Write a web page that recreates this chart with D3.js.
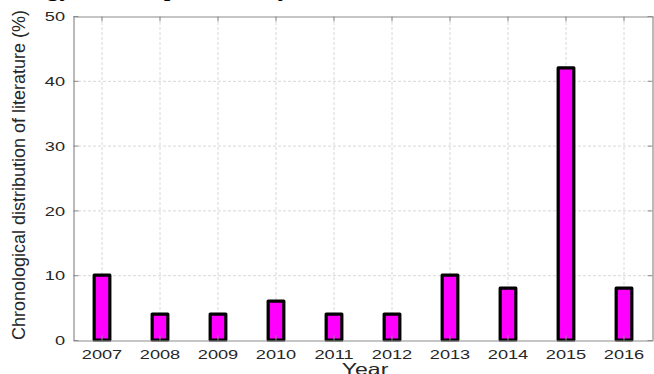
<!DOCTYPE html>
<html>
<head>
<meta charset="utf-8">
<script src="https://cdn.jsdelivr.net/npm/d3@7/dist/d3.min.js"></script>
<style>
  html, body { margin: 0; padding: 0; background: #fff; }
  svg { display: block; }
</style>
</head>
<body>
<svg id="chart" width="654" height="374"></svg>
<script>
const years = ["2007","2008","2009","2010","2011","2012","2013","2014","2015","2016"];
const shares = [10, 4, 4, 6, 4, 4, 10, 8, 42, 8];
const yTicks = [0, 10, 20, 30, 40, 50];
const yTitle = "Chronological distribution of literature (%)";
const xTitle = "Year";
const topText = "energy consumption, study and the";

const W = 654, H = 374;
const m = { left: 73, right: 1, top: 16, bottom: 34 };
const svg = d3.select("#chart");

const x = d3.scaleBand().domain(years).range([m.left, W - m.right]).padding(0);
const y = d3.scaleLinear().domain([0, 50]).range([H - m.bottom, m.top]);
const stretch = 1.4;

// clipped document text above the figure
svg.append("text")
  .attr("x", 0).attr("y", -5)
  .attr("font-family", "'Liberation Serif', 'Times New Roman', serif")
  .attr("font-size", 27).attr("fill", "#000")
  .text(topText);

// grid
const gridColor = "#d8d8d8";
svg.append("g").selectAll("line").data(years).join("line")
  .attr("x1", d => x(d) + x.bandwidth() / 2).attr("x2", d => x(d) + x.bandwidth() / 2)
  .attr("y1", y(0)).attr("y2", y(50))
  .attr("stroke", gridColor).attr("stroke-width", 1).attr("stroke-dasharray", "3,2");
svg.append("g").selectAll("line").data(yTicks.filter(t => t > 0 && t < 50)).join("line")
  .attr("x1", x.range()[0]).attr("x2", x.range()[1])
  .attr("y1", d => y(d) + 0.5).attr("y2", d => y(d) + 0.5)
  .attr("stroke", gridColor).attr("stroke-width", 1).attr("stroke-dasharray", "3,2");

// bars
const barW = x.bandwidth() * 0.27;
svg.append("g").selectAll("rect").data(years).join("rect")
  .attr("x", d => x(d) + x.bandwidth() / 2 - barW / 2)
  .attr("width", barW)
  .attr("y", (d, i) => y(shares[i]))
  .attr("height", (d, i) => y(0) - y(shares[i]))
  .attr("fill", "#ff00ff")
  .attr("stroke", "#000").attr("stroke-width", 3.2)
  .attr("stroke-linejoin", "round");

// box and axes
const axisColor = "#8c8c8c";
const tickColor = "#262626";
const fontFam = "'Liberation Sans', Arial, Helvetica, sans-serif";

const gx = svg.append("g").attr("transform", `translate(0,${y(0) + 0.5})`)
  .call(d3.axisBottom(x).tickSizeInner(-5).tickSizeOuter(0).tickPadding(9));
const gxTop = svg.append("g").attr("transform", `translate(0,${y(50) + 0.5})`)
  .call(d3.axisTop(x).tickSizeInner(-5).tickSizeOuter(0).tickFormat(""));
const gy = svg.append("g").attr("transform", `translate(${m.left + 0.5},0)`)
  .call(d3.axisLeft(y).tickValues(yTicks).tickSizeInner(-5).tickSizeOuter(0).tickPadding(6));
const gyR = svg.append("g").attr("transform", `translate(${W - m.right - 0.5},0)`)
  .call(d3.axisRight(y).tickValues(yTicks).tickSizeInner(-5).tickSizeOuter(0).tickFormat(""));

[gx, gxTop, gy, gyR].forEach(g => {
  g.select(".domain").attr("stroke", axisColor).attr("stroke-width", 1.2);
  g.selectAll(".tick line").attr("stroke", axisColor);
});

gx.selectAll(".tick text")
  .attr("font-family", fontFam).attr("font-size", 13).attr("fill", tickColor)
  .attr("transform", `scale(${stretch},1)`);
gy.selectAll(".tick text")
  .attr("font-family", fontFam).attr("font-size", 13).attr("fill", tickColor)
  .attr("dy", "0.36em")
  .attr("transform", `scale(${stretch},1)`);

// axis titles
svg.append("text")
  .attr("transform", `translate(${(m.left + W - m.right) / 2 + 2},375) scale(${stretch},1)`)
  .attr("text-anchor", "middle")
  .attr("font-family", fontFam).attr("font-size", 16.5).attr("fill", tickColor)
  .text(xTitle);
svg.append("text")
  .attr("transform", `translate(25,${(20 + 330) / 2}) rotate(-90)`)
  .attr("text-anchor", "middle")
  .attr("font-family", fontFam).attr("font-size", 18).attr("fill", tickColor)
  .text(yTitle);
</script>
</body>
</html>
